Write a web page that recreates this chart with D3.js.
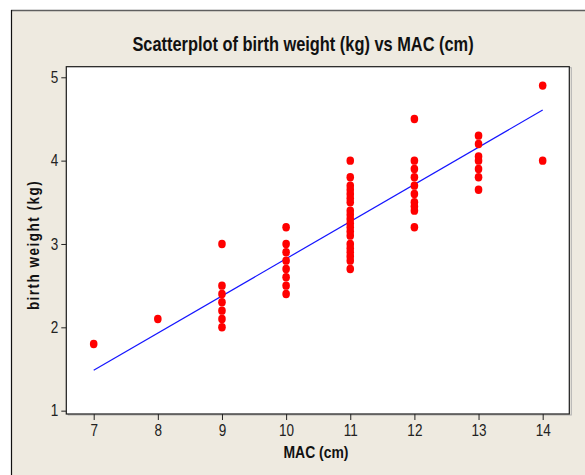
<!DOCTYPE html>
<html>
<head>
<meta charset="utf-8">
<script src="https://cdn.jsdelivr.net/npm/d3@7"></script>
<style>
  html, body { margin: 0; padding: 0; background: #ffffff; }
  svg { display: block; }
  text { font-family: "Liberation Sans", Arial, sans-serif; }
</style>
</head>
<body>
<svg id="chart" width="585" height="475"></svg>
<script>
// ---- data ----
const macValues = [7, 8, 9, 10, 11, 12, 13, 14];
const birthWeights = [
  [1.8],
  [2.1],
  [3.0, 2.5, 2.4, 2.3, 2.2, 2.1, 2.0],
  [3.2, 3.0, 2.9, 2.8, 2.7, 2.6, 2.5, 2.4],
  [4.0, 3.8, 3.7, 3.65, 3.6, 3.55, 3.5, 3.4, 3.35, 3.3, 3.25, 3.2, 3.15, 3.1, 3.0, 2.95, 2.9, 2.85, 2.8, 2.7],
  [4.5, 4.0, 3.9, 3.8, 3.7, 3.6, 3.5, 3.45, 3.4, 3.2],
  [4.3, 4.2, 4.05, 4.0, 3.9, 3.8, 3.65],
  [4.9, 4.0]
];
const fitIntercept = -1.638;
const fitSlope = 0.4461;
const fitRange = [7, 14];
const xTicks = [7, 8, 9, 10, 11, 12, 13, 14];
const yTicks = [1, 2, 3, 4, 5];
const titleText = "Scatterplot of birth weight (kg) vs MAC (cm)";
const xLabel = "MAC (cm)";
const yLabel = "birth weight (kg)";

const points = [];
macValues.forEach((m, i) => birthWeights[i].forEach(w => points.push({ x: m, y: w })));

const svg = d3.select("#chart");
const NARROW = 0.82;

// outer panel
svg.append("rect").attr("x", 11).attr("y", 10).attr("width", 585).attr("height", 475)
  .attr("fill", "#EEEAE0");
svg.append("line").attr("x1", 11).attr("x2", 585).attr("y1", 10.5).attr("y2", 10.5)
  .attr("stroke", "#5f5f5f").attr("stroke-width", 1.5);
svg.append("line").attr("x1", 11.5).attr("x2", 11.5).attr("y1", 10).attr("y2", 475)
  .attr("stroke", "#111").attr("stroke-width", 1.2);

const plot = { left: 66.3, right: 569.3, top: 66.7, bottom: 414 };

const x = d3.scaleLinear().domain([6.573, 14.415]).range([plot.left, plot.right]);
const y = d3.scaleLinear().domain([0.96, 5.127]).range([plot.bottom, plot.top]);

// plot area
svg.append("rect")
  .attr("x", plot.left + 2).attr("y", plot.top + 1)
  .attr("width", plot.right - plot.left).attr("height", plot.bottom - plot.top)
  .attr("fill", "none").attr("stroke", "#b0b0b0").attr("stroke-width", 1);
svg.append("rect")
  .attr("x", plot.left).attr("y", plot.top)
  .attr("width", plot.right - plot.left).attr("height", plot.bottom - plot.top)
  .attr("fill", "#ffffff").attr("stroke", "#1a1a1a").attr("stroke-width", 1.2);

// axes
const xAxis = svg.append("g").attr("transform", `translate(0,${plot.bottom})`)
  .call(d3.axisBottom(x).tickValues(xTicks).tickFormat(d3.format("d")).tickSize(6).tickPadding(4));
const yAxis = svg.append("g").attr("transform", `translate(${plot.left},0)`)
  .call(d3.axisLeft(y).tickValues(yTicks).tickFormat(d3.format("d")).tickSize(5).tickPadding(3));
[xAxis, yAxis].forEach(g => {
  g.select(".domain").remove();
  g.selectAll(".tick line").attr("stroke", "#222");
});
xAxis.selectAll(".tick text").attr("fill", "#222").style("font-size", "16.5px")
  .attr("transform", `scale(${NARROW},1)`);
yAxis.selectAll(".tick text").attr("fill", "#222").style("font-size", "16.5px")
  .attr("transform", `translate(-8,0) scale(${NARROW},1) translate(8,0)`);

// regression line
svg.append("line")
  .attr("x1", x(fitRange[0])).attr("y1", y(fitIntercept + fitSlope * fitRange[0]))
  .attr("x2", x(fitRange[1])).attr("y2", y(fitIntercept + fitSlope * fitRange[1]))
  .attr("stroke", "#1515ff").attr("stroke-width", 1.2);

// points
svg.append("g").selectAll("ellipse").data(points).join("ellipse")
  .attr("cx", d => x(d.x)).attr("cy", d => y(d.y))
  .attr("rx", 3.8).attr("ry", 4.2)
  .attr("fill", "#ff0000");

// title & labels
svg.append("g").attr("transform", `translate(303,51) scale(${NARROW},1)`)
  .append("text").attr("text-anchor", "middle")
  .style("font-size", "20px").style("font-weight", "bold").attr("fill", "#111")
  .text(titleText);
svg.append("g").attr("transform", `translate(316,458) scale(${NARROW},1)`)
  .append("text").attr("text-anchor", "middle")
  .style("font-size", "17px").style("font-weight", "bold").attr("fill", "#111")
  .text(xLabel);
svg.append("g").attr("transform", `translate(39,245) rotate(-90) scale(${NARROW},1)`)
  .append("text").attr("text-anchor", "middle")
  .style("font-size", "16.5px").style("font-weight", "bold").style("letter-spacing", "1.8px").attr("fill", "#111")
  .text(yLabel);
</script>
</body>
</html>
